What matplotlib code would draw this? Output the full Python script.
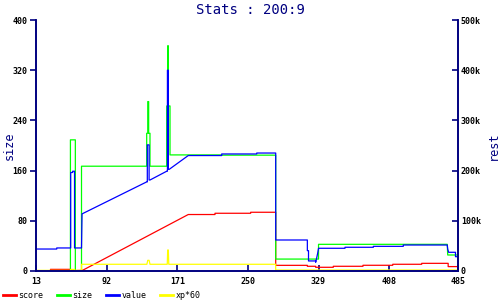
import matplotlib
matplotlib.use('Agg')
import matplotlib.pyplot as plt
from matplotlib.ticker import FuncFormatter

#Chart data (x positions and values)
score_x = [13, 29.2, 29.2, 51.8, 51.8, 65, 183.3, 213.2, 213.2, 253.1, 253.1, 281.1, 281.1,
           316.5, 316.5, 325.8, 325.8, 345.5, 345.5, 378.7, 378.7, 412, 412, 444.4, 444.4,
           474, 474, 485]
score_y = [0, 0, 2.6, 2.6, 0.5, 1, 90, 90, 92, 92, 93.6, 93.6, 9,
           9, 7.5, 7.5, 5.9, 5.9, 7.5, 7.5, 9.1, 9.1, 10.7, 10.7, 12.2,
           12.2, 7, 7]

size_x = [13, 51.5, 51.5, 57, 57, 63.9, 63.9, 136.8, 136.8, 138, 138, 139, 139, 140.5, 140.5,
          159.2, 159.2, 160.3, 160.3, 161, 161, 162.9, 162.9, 220.7, 220.7, 281.1, 281.1,
          329, 329, 473, 473.5, 485]
size_y = [0, 0, 209, 209, 0, 0, 167, 167, 219.5, 219.5, 270, 270, 219.5, 219.5, 167,
          167, 263, 263, 359, 359, 263, 263, 185, 185, 184.6, 184.6, 19,
          19, 42.5, 42.5, 25.5, 25.5]

value_x = [13, 36.2, 36.2, 51.8, 51.8, 54, 54, 56.1, 56.1, 63.9, 64.5, 136.8, 137.5, 137.5,
           139.5, 139.5, 140.5, 159.2, 160, 160, 161, 161, 162, 183.3, 220.7, 220.7, 259.9,
           259.9, 281.1, 281.1, 316.5, 316.5, 317.8, 317.8, 325.8, 325.8, 327, 328, 329,
           358.6, 358.6, 390.3, 390.3, 423.8, 423.8, 473, 473.5, 474.5, 482.2, 482.2, 485]
value_y = [35, 35, 36.7, 36.7, 157, 157, 159, 159, 36.7, 36.7, 91, 142, 142, 201,
           201, 145, 145, 159, 159, 320, 320, 162, 162, 184, 184, 186.5, 186.5,
           188, 188, 49.4, 49.4, 32.4, 32.4, 16, 16, 13.9, 21.2, 28, 36.2,
           36.2, 37.8, 37.8, 39.3, 39.3, 41.4, 41.4, 35, 29.8, 29.8, 22.8, 22.8]
# value is drawn against the right axis (k units)
value_y = [v * 1250 for v in value_y]

xp_x = [13, 51.8, 51.8, 56.1, 56.1, 63.9, 63.9, 137, 138, 139.5, 140.5, 159.8, 160.3, 161,
        161.5, 281.1, 281.1, 485]
xp_y = [1, 1, 2.5, 2.5, 1, 1, 10.7, 10.7, 17, 17, 10.7, 10.7, 33.5, 33.5,
        10.7, 10.7, 1.5, 1.5]

x_ticks = [13, 92, 171, 250, 329, 408, 485]
left_ticks = [0, 80, 160, 240, 320, 400]
right_ticks = [0, 100000, 200000, 300000, 400000, 500000]

navy = '#000080'
mono = 'DejaVu Sans Mono'

fig = plt.figure(figsize=(5, 3), dpi=100)
ax = fig.add_axes([0.072, 0.0967, 0.844, 0.8366])
ax2 = ax.twinx()

lw = 0.9
ax.plot(score_x, score_y, color='#ff0000', lw=lw, label='score')
ax.plot(size_x, size_y, color='#00ff00', lw=lw, label='size')
ax2.plot(value_x, value_y, color='#0000ff', lw=lw, label='value')
ax.plot(xp_x, xp_y, color='#ffff00', lw=lw, label='xp*60')

ax.set_xlim(13, 485)
ax.set_ylim(0, 400)
ax2.set_ylim(0, 500000)
ax.set_xticks(x_ticks)
ax.set_yticks(left_ticks)
ax2.set_yticks(right_ticks)
ax2.yaxis.set_major_formatter(FuncFormatter(lambda v, p: '0' if v == 0 else '%dk' % (v / 1000)))

for a in (ax, ax2):
    a.spines['top'].set_visible(False)
    for s in ('left', 'right', 'bottom'):
        a.spines[s].set_color(navy)
        a.spines[s].set_linewidth(1.2)
ax.tick_params(axis='y', direction='out', length=4, width=1.2, color=navy, labelsize=6, pad=2)
ax.tick_params(axis='x', direction='in', length=4, width=1.2, color=navy, labelsize=6, pad=4)
ax2.tick_params(axis='y', direction='in', length=4, width=1.2, color=navy, labelsize=6, pad=2)
for lab in ax.get_xticklabels() + ax.get_yticklabels() + ax2.get_yticklabels():
    lab.set_family(mono)
    lab.set_weight('bold')

# axis titles placed in figure coords so they sit inside the canvas
fig.text(0.018, 0.513, 'size', rotation=90, ha='center', va='center', family=mono, fontsize=8.5, color=navy)
fig.text(0.986, 0.513, 'rest', rotation=90, ha='center', va='center', family=mono, fontsize=8.5, color=navy)
fig.text(0.5, 0.965, 'Stats : 200:9', ha='center', va='center', family=mono, fontsize=10, color=navy)

#Legend along the bottom
h1, l1 = ax.get_legend_handles_labels()
h2, l2 = ax2.get_legend_handles_labels()
handles = [h1[0], h1[1], h2[0], h1[2]]
labels = [l1[0], l1[1], l2[0], l1[2]]
leg = fig.legend(handles, labels, loc='lower left', bbox_to_anchor=(-0.01, -0.025), ncol=4,
                 frameon=False, handlelength=1.6, handletextpad=0.3, columnspacing=1.6,
                 prop={'family': mono, 'size': 6})
for line in leg.get_lines():
    line.set_linewidth(2)

fig.savefig('out.png', dpi=100)
